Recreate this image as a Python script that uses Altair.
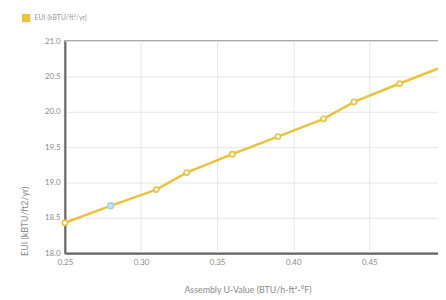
import altair as alt
import pandas as pd

u_values = [0.25, 0.28, 0.31, 0.33, 0.36, 0.39, 0.42, 0.44, 0.47, 0.50]
eui_values = [18.43, 18.67, 18.90, 19.14, 19.40, 19.65, 19.90, 20.14, 20.40, 20.65]
highlight_u = [0.28]
highlight_eui = [18.67]
series_name = "EUI (kBTU/ft\u00b2/yr)"
x_ticks = [0.25, 0.30, 0.35, 0.40, 0.45, 0.50, 0.55]
y_ticks = [18.0, 18.5, 19.0, 19.5, 20.0, 20.5, 21.0]

df = pd.DataFrame({"u": u_values, "eui": eui_values, "series": series_name})
hl = pd.DataFrame({"u": highlight_u, "eui": highlight_eui})

GOLD = "#E9C23E"
FONT = "Lato"

x_enc = alt.X(
    "u:Q",
    scale=alt.Scale(domain=[0.25, 0.55], nice=False, zero=False),
    axis=alt.Axis(
        title="Assembly U-Value (BTU/h-ft\u00b2-\u00b0F)",
        values=x_ticks,
        format=".2f",
        labelOverlap=False,
        labelFlush=False,
        labelPadding=6,
        titleX=186,
        titleY=40,
        titleAnchor="start",
        titleAlign="center",
        titleBaseline="alphabetic",
    ),
)
y_enc = alt.Y(
    "eui:Q",
    scale=alt.Scale(domain=[18.0, 21.0], nice=False, zero=False),
    axis=alt.Axis(
        title="EUI (kBTU/ft2/yr)",
        values=y_ticks,
        format=".1f",
        labelOverlap=False,
        labelFlush=False,
        titleX=-41,
        titleY=183,
        titleAngle=270,
        titleAlign="center",
        titleBaseline="middle",
    ),
)

line = alt.Chart(df).mark_line(strokeWidth=2.5).encode(
    x=x_enc,
    y=y_enc,
    color=alt.Color(
        "series:N",
        scale=alt.Scale(range=[GOLD]),
        legend=alt.Legend(
            title=None,
            orient="none",
            legendX=-44,
            legendY=-28,
            symbolType="square",
            symbolFillColor=GOLD,
            symbolStrokeColor=GOLD,
            symbolSize=72,
            symbolStrokeWidth=0,
            labelFontSize=7,
            labelColor="#999999",
            labelFont=FONT,
            padding=0,
        ),
    ),
)

points = alt.Chart(df).mark_point(
    filled=True, fill="white", stroke=GOLD, strokeWidth=1.6, size=28, opacity=1
).encode(x=x_enc, y=y_enc)

highlight = alt.Chart(hl).mark_point(
    filled=True, fill="#BFE4F6", stroke="#A6D3EC", strokeWidth=1.6, size=36, opacity=1
).encode(x=x_enc, y=y_enc)

chart = (
    alt.layer(line, points, highlight)
    .properties(
        width=465,
        height=216,
        autosize=alt.AutoSizeParams(type="none"),
        padding={"left": 58, "top": 31, "right": -85, "bottom": 45},
    )
    .configure_view(stroke="#aaaaaa", strokeWidth=2)
    .configure_axis(
        grid=True,
        gridColor="#e6e6e6",
        gridWidth=1,
        domainColor="#666666",
        domainWidth=2,
        ticks=False,
        labelFont=FONT,
        labelFontSize=8,
        labelColor="#8a8a8a",
        labelPadding=5,
        titleFont=FONT,
        titleFontSize=9,
        titleFontWeight="normal",
        titleColor="#8a8a8a",
    )
)

chart.save("out.html", embed_options={"renderer": "svg", "actions": False})
